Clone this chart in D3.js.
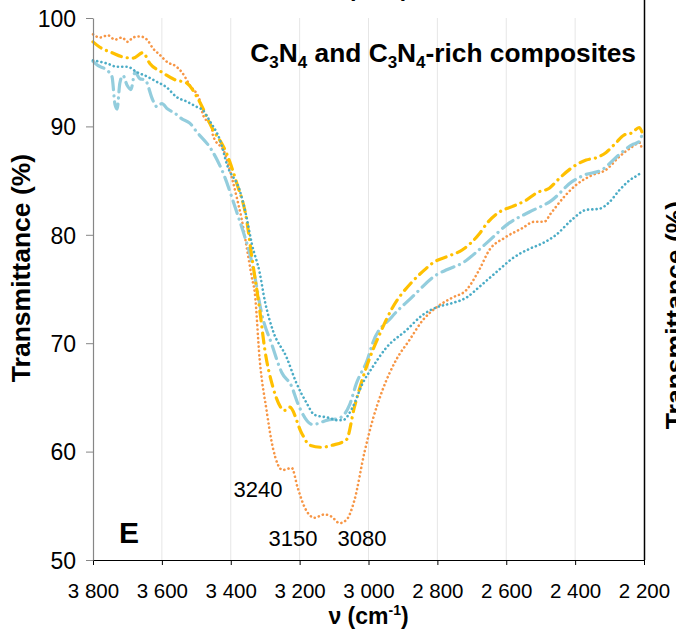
<!DOCTYPE html>
<html><head><meta charset="utf-8">
<script src="https://cdn.jsdelivr.net/npm/d3@7"></script>
<style>body{margin:0;background:#fff}svg{display:block;font-family:"Liberation Sans",Arial,sans-serif}</style>
</head><body><svg id="c" width="676" height="635"></svg>
<script>
const xTicks = [3800,3600,3400,3200,3000,2800,2600,2400,2200];
const yTicks = [50,60,70,80,90,100];

const orange = [[3800,98.5],[3780,98.2],[3757,98.4],[3736,98.0],[3716,98.2],[3699,97.8],[3684,98.2],[3664,98.3],[3643,98.0],[3626,97.2],[3606,96.6],[3583,95.9],[3562,95.6],[3542,95.0],[3519,93.8],[3490,92.4],[3481,91.1],[3455,89.9],[3452,89.2],[3417,87.5],[3397,85.3],[3383,83.5],[3368,81.4],[3354,78.9],[3339,76.1],[3330,74.6],[3316,68.5],[3296,63.8],[3278,60.4],[3249,58.3],[3236,58.4],[3223,58.5],[3206,56.7],[3186,54.9],[3157,53.9],[3128,54.2],[3107,54.0],[3084,53.4],[3064,53.7],[3041,55.5],[3012,59.9],[2988,62.9],[2959,65.7],[2919,68.5],[2881,70.3],[2843,72.1],[2803,73.3],[2757,74.2],[2716,74.9],[2678,76.8],[2649,78.6],[2606,79.7],[2554,80.6],[2519,81.2],[2490,81.2],[2470,82.0],[2432,83.5],[2397,84.6],[2351,85.5],[2310,86.0],[2272,87.2],[2235,88.1],[2212,88.5],[2206,87.8]];

const yellow = [[3800,97.8],[3780,97.3],[3745,96.8],[3713,96.4],[3684,96.3],[3655,96.8],[3635,95.8],[3600,95.0],[3562,94.3],[3528,94.0],[3496,92.6],[3455,89.9],[3412,87.5],[3383,84.8],[3354,81.4],[3339,78.0],[3316,73.1],[3301,69.4],[3278,66.0],[3243,63.8],[3229,64.1],[3194,61.7],[3171,60.6],[3136,60.4],[3104,60.6],[3064,61.1],[3041,64.1],[3006,67.8],[2968,70.8],[2930,73.3],[2875,75.6],[2843,76.6],[2809,77.5],[2771,78.0],[2728,78.6],[2678,80.1],[2655,81.1],[2620,82.1],[2583,82.6],[2542,83.2],[2510,83.9],[2475,84.3],[2446,85.2],[2409,86.2],[2368,86.9],[2339,87.1],[2310,87.6],[2281,88.5],[2258,89.2],[2235,89.4],[2214,89.9],[2206,89.5]];

const lightBlue = [[3800,96.0],[3785,95.6],[3765,95.3],[3745,94.6],[3736,92.0],[3730,91.6],[3722,94.0],[3713,94.7],[3701,93.8],[3690,93.4],[3678,95.0],[3664,94.4],[3649,94.3],[3626,92.4],[3614,91.8],[3600,92.1],[3583,91.6],[3562,91.2],[3542,90.7],[3519,90.3],[3499,89.5],[3455,87.8],[3417,85.3],[3388,82.6],[3359,79.8],[3345,78.3],[3330,76.1],[3310,72.7],[3281,69.9],[3252,67.3],[3223,66.0],[3206,64.5],[3162,62.5],[3119,62.9],[3084,63.1],[3055,64.3],[3035,66.3],[3003,68.5],[2988,70.0],[2933,72.4],[2875,74.2],[2803,76.3],[2771,76.8],[2722,77.5],[2687,78.4],[2655,79.3],[2591,81.1],[2533,82.1],[2467,83.2],[2409,84.9],[2374,85.5],[2322,86.0],[2272,87.4],[2235,88.3],[2214,88.6],[2206,89.2]];

const teal = [[3800,96.1],[3759,95.8],[3730,95.5],[3701,95.5],[3672,95.0],[3643,94.6],[3614,94.1],[3586,93.6],[3557,92.7],[3528,92.3],[3499,91.8],[3481,91.5],[3461,90.5],[3432,88.8],[3409,86.3],[3374,84.1],[3354,81.6],[3339,79.2],[3316,76.5],[3301,73.9],[3278,71.2],[3238,68.7],[3209,66.3],[3180,64.5],[3157,63.4],[3113,63.1],[3093,62.9],[3075,62.9],[3046,64.1],[3017,66.3],[2988,67.8],[2948,69.6],[2890,71.2],[2843,72.6],[2803,73.3],[2757,73.7],[2716,74.2],[2678,75.2],[2649,76.0],[2620,76.8],[2583,77.8],[2533,78.7],[2496,79.2],[2455,80.0],[2409,81.4],[2368,82.3],[2330,82.4],[2301,83.0],[2272,84.1],[2243,85.0],[2214,85.6],[2206,85.8]];

const annotations = [{t:"3240",x:258,y:497},{t:"3150",x:293,y:546},{t:"3080",x:362,y:546}];

const svg = d3.select("#c");
const L=93,R=644,T=18,B=560;
const x = d3.scaleLinear().domain([3800,2200]).range([L,R]);
const y = d3.scaleLinear().domain([50,100]).range([B,T]);
const FONT = "Liberation Sans, Arial, sans-serif";

// gridlines
svg.append("g").selectAll("line").data(xTicks.slice(1,-1)).join("line")
  .attr("x1",d=>x(d)).attr("x2",d=>x(d)).attr("y1",T).attr("y2",B)
  .attr("stroke","#e6e6e6").attr("stroke-width",1);

// right black line (neighbouring panel axis)
svg.append("line").attr("x1",R+0.5).attr("x2",R+0.5).attr("y1",0).attr("y2",B)
  .attr("stroke","#000").attr("stroke-width",1.5);

const line = d3.line().x(d=>x(d[0])).y(d=>y(d[1])).curve(d3.curveMonotoneX);
const series = [
  {d:orange, c:"#F79646", w:2.6, dash:"0.1 4.2"},
  {d:lightBlue, c:"#93CDDD", w:3.2, dash:"13 6 0.1 6"},
  {d:yellow, c:"#FFC000", w:3.2, dash:"10 6 0.1 6"},
  {d:teal, c:"#4BACC6", w:2.6, dash:"0.1 4.2"}
];
svg.append("g").selectAll("path").data(series).join("path")
  .attr("d",s=>line(s.d)).attr("fill","none").attr("stroke",s=>s.c)
  .attr("stroke-width",s=>s.w).attr("stroke-dasharray",s=>s.dash)
  .attr("stroke-linecap","round");

// axes
const xa = svg.append("g").attr("transform",`translate(0,${B})`)
  .call(d3.axisBottom(x).tickValues(xTicks).tickSize(5).tickSizeOuter(0)
    .tickFormat(d=>d3.format(",")(d).replace(","," ")));
xa.select(".domain").attr("stroke","#000").attr("stroke-width",1.2);
xa.selectAll(".tick line").attr("stroke","#000");
xa.selectAll("text").attr("font-size",20.5).attr("fill","#000").attr("y",38).attr("dy",0)
  .attr("font-family",FONT);

const ya = svg.append("g").attr("transform",`translate(${L},0)`)
  .call(d3.axisLeft(y).tickValues(yTicks).tickSize(7).tickSizeOuter(0).tickPadding(10));
ya.select(".domain").attr("stroke","#868686").attr("stroke-width",1.2);
ya.selectAll(".tick line").attr("stroke","#868686");
ya.selectAll("text").attr("font-size",23).attr("fill","#000").attr("dy","0.36em")
  .attr("font-family",FONT);

// axis title helper
function nuTitle(yPos){
  const t = svg.append("text").attr("x",(L+R)/2).attr("y",yPos).attr("text-anchor","middle")
    .attr("font-size",23).attr("font-weight","bold");
  t.append("tspan").text("\u03BD (cm");
  t.append("tspan").text("-1").attr("font-size",14).attr("dy",-9);
  t.append("tspan").text(")").attr("dy",9);
}
nuTitle(624);
nuTitle(-4); // cut-off title of the panel above

svg.append("text").attr("transform","translate(30,268) rotate(-90)").attr("text-anchor","middle")
  .attr("font-size",26.5).attr("font-weight","bold").text("Transmittance (%)");

// right panel's cut-off y label
svg.append("text").attr("transform","translate(684,315) rotate(-90)").attr("text-anchor","middle")
  .attr("font-size",26.5).attr("font-weight","bold").text("Transmittance (%)");

// title
const tt = svg.append("text").attr("x",636).attr("y",62).attr("text-anchor","end")
  .attr("font-size",26.3).attr("font-weight","bold");
tt.append("tspan").text("C");
tt.append("tspan").text("3").attr("font-size",17).attr("dy",6);
tt.append("tspan").text("N").attr("dy",-6);
tt.append("tspan").text("4").attr("font-size",17).attr("dy",6);
tt.append("tspan").text(" and C").attr("dy",-6);
tt.append("tspan").text("3").attr("font-size",17).attr("dy",6);
tt.append("tspan").text("N").attr("dy",-6);
tt.append("tspan").text("4").attr("font-size",17).attr("dy",6);
tt.append("tspan").text("-rich composites").attr("dy",-6);

// panel letter
svg.append("text").attr("x",119).attr("y",543).attr("font-size",30).attr("font-weight","bold").text("E");

// annotations
svg.append("g").selectAll("text").data(annotations).join("text")
  .attr("x",d=>d.x).attr("y",d=>d.y).attr("text-anchor","middle").attr("font-size",22).text(d=>d.t);
</script></body></html>
